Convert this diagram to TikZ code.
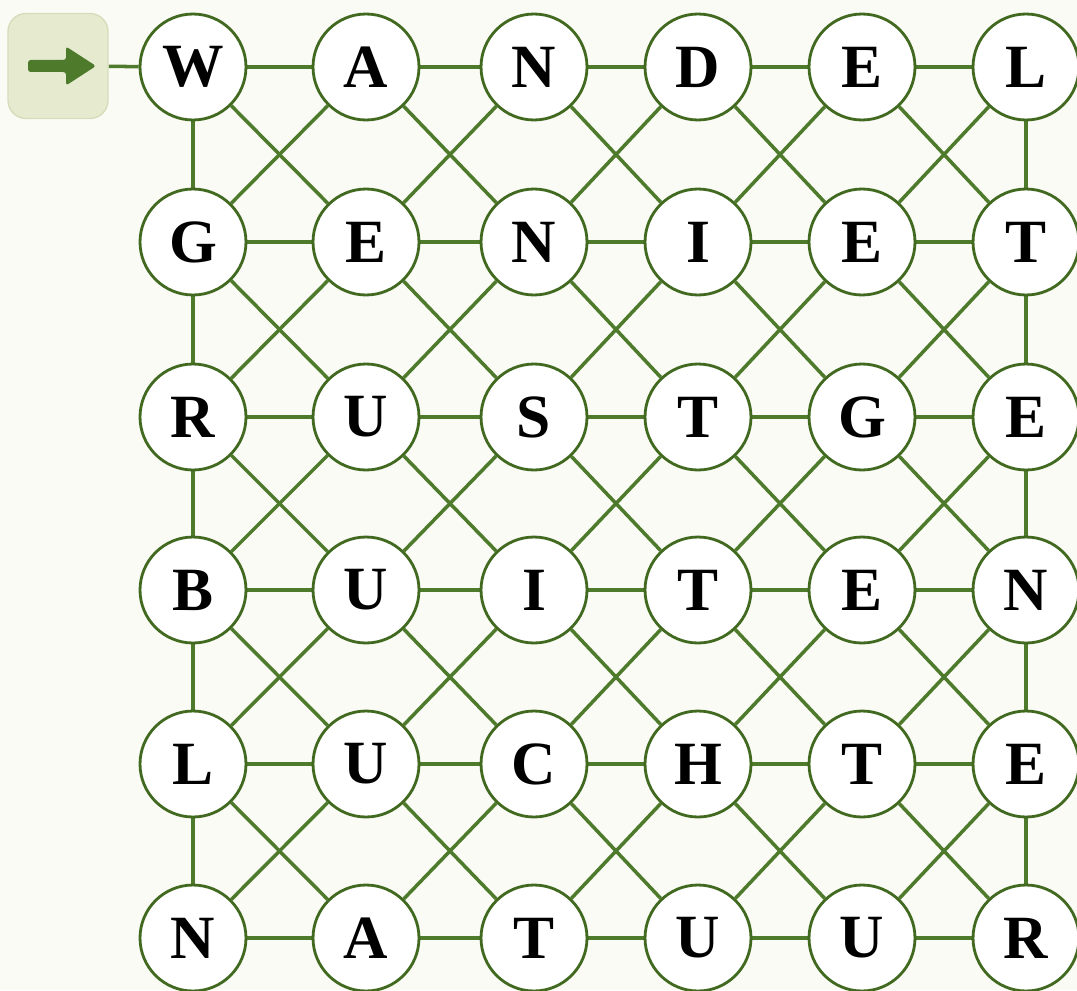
\documentclass[tikz,border=0pt]{standalone}
\usepackage{fontspec}
\setmainfont{Liberation Serif}
\usepackage{xcolor}
\usepackage{tikz}
\usetikzlibrary{backgrounds}

\definecolor{paper}{HTML}{FBFBF6}
\definecolor{gridgreen}{HTML}{4E7A2C}
\definecolor{ringgreen}{HTML}{41691F}
\definecolor{boxfill}{HTML}{E6EBD0}
\definecolor{boxline}{HTML}{D6DDBB}

\begin{document}
\begin{tikzpicture}[x=0.02cm, y=-0.02cm]
    % Define styles
    \tikzstyle{letter} = [circle, draw=ringgreen, line width=1.6pt, fill=white, minimum size=2.12cm, inner sep=0pt, text=black, font=\fontsize{35}{35}\selectfont\bfseries]
    \tikzstyle{link} = [draw=gridgreen, line width=2pt]
    \tikzstyle{startbox} = [rectangle, draw=boxline, fill=boxfill, line width=0.8pt, rounded corners=0.36cm, minimum width=2cm, minimum height=2.1cm]
    \tikzstyle{pointer} = [fill=gridgreen, rounded corners=1.5pt]

    \useasboundingbox (0,0) rectangle (1077,990);

    % Start box with its arrow
    \node[startbox] (start) at (58,66) {};
    \fill[pointer] ([shift={(-30,-6)}]start.center) -- ++(38,0) -- ++(0,-13.5) -- ++(30,19.5)
        -- ++(-30,19.5) -- ++(0,-13.5) -- ++(-38,0) -- cycle;

    % Letters, row by row
    \node[letter] (n11) at (193,67) {W};
    \node[letter] (n12) at (366,67) {A};
    \node[letter] (n13) at (534,67) {N};
    \node[letter] (n14) at (698,67) {D};
    \node[letter] (n15) at (862,67) {E};
    \node[letter] (n16) at (1026,67) {L};

    \node[letter] (n21) at (193,242) {G};
    \node[letter] (n22) at (366,242) {E};
    \node[letter] (n23) at (534,242) {N};
    \node[letter] (n24) at (698,242) {I};
    \node[letter] (n25) at (862,242) {E};
    \node[letter] (n26) at (1026,242) {T};

    \node[letter] (n31) at (193,417) {R};
    \node[letter] (n32) at (366,417) {U};
    \node[letter] (n33) at (534,417) {S};
    \node[letter] (n34) at (698,417) {T};
    \node[letter] (n35) at (862,417) {G};
    \node[letter] (n36) at (1026,417) {E};

    \node[letter] (n41) at (193,590) {B};
    \node[letter] (n42) at (366,590) {U};
    \node[letter] (n43) at (534,590) {I};
    \node[letter] (n44) at (698,590) {T};
    \node[letter] (n45) at (862,590) {E};
    \node[letter] (n46) at (1026,590) {N};

    \node[letter] (n51) at (193,764) {L};
    \node[letter] (n52) at (366,764) {U};
    \node[letter] (n53) at (534,764) {C};
    \node[letter] (n54) at (698,764) {H};
    \node[letter] (n55) at (862,764) {T};
    \node[letter] (n56) at (1026,764) {E};

    \node[letter] (n61) at (193,938) {N};
    \node[letter] (n62) at (366,938) {A};
    \node[letter] (n63) at (534,938) {T};
    \node[letter] (n64) at (698,938) {U};
    \node[letter] (n65) at (862,938) {U};
    \node[letter] (n66) at (1026,938) {R};

    \begin{scope}[on background layer]
        \fill[paper] (0,0) rectangle (1077,990);
        \draw[link] (start) -- (n11);

        % Rows
        \foreach \r in {1,...,6}
            \foreach \c [count=\d from 2] in {1,...,5}
                \draw[link] (n\r\c) -- (n\r\d);

        % Outer columns only
        \foreach \c in {1,6}
            \foreach \r [count=\s from 2] in {1,...,5}
                \draw[link] (n\r\c) -- (n\s\c);

        % Crossing diagonals in every cell
        \foreach \r [count=\s from 2] in {1,...,5}
            \foreach \c [count=\d from 2] in {1,...,5} {
                \draw[link] (n\r\c) -- (n\s\d);
                \draw[link] (n\r\d) -- (n\s\c);
            }
    \end{scope}
\end{tikzpicture}
\end{document}
